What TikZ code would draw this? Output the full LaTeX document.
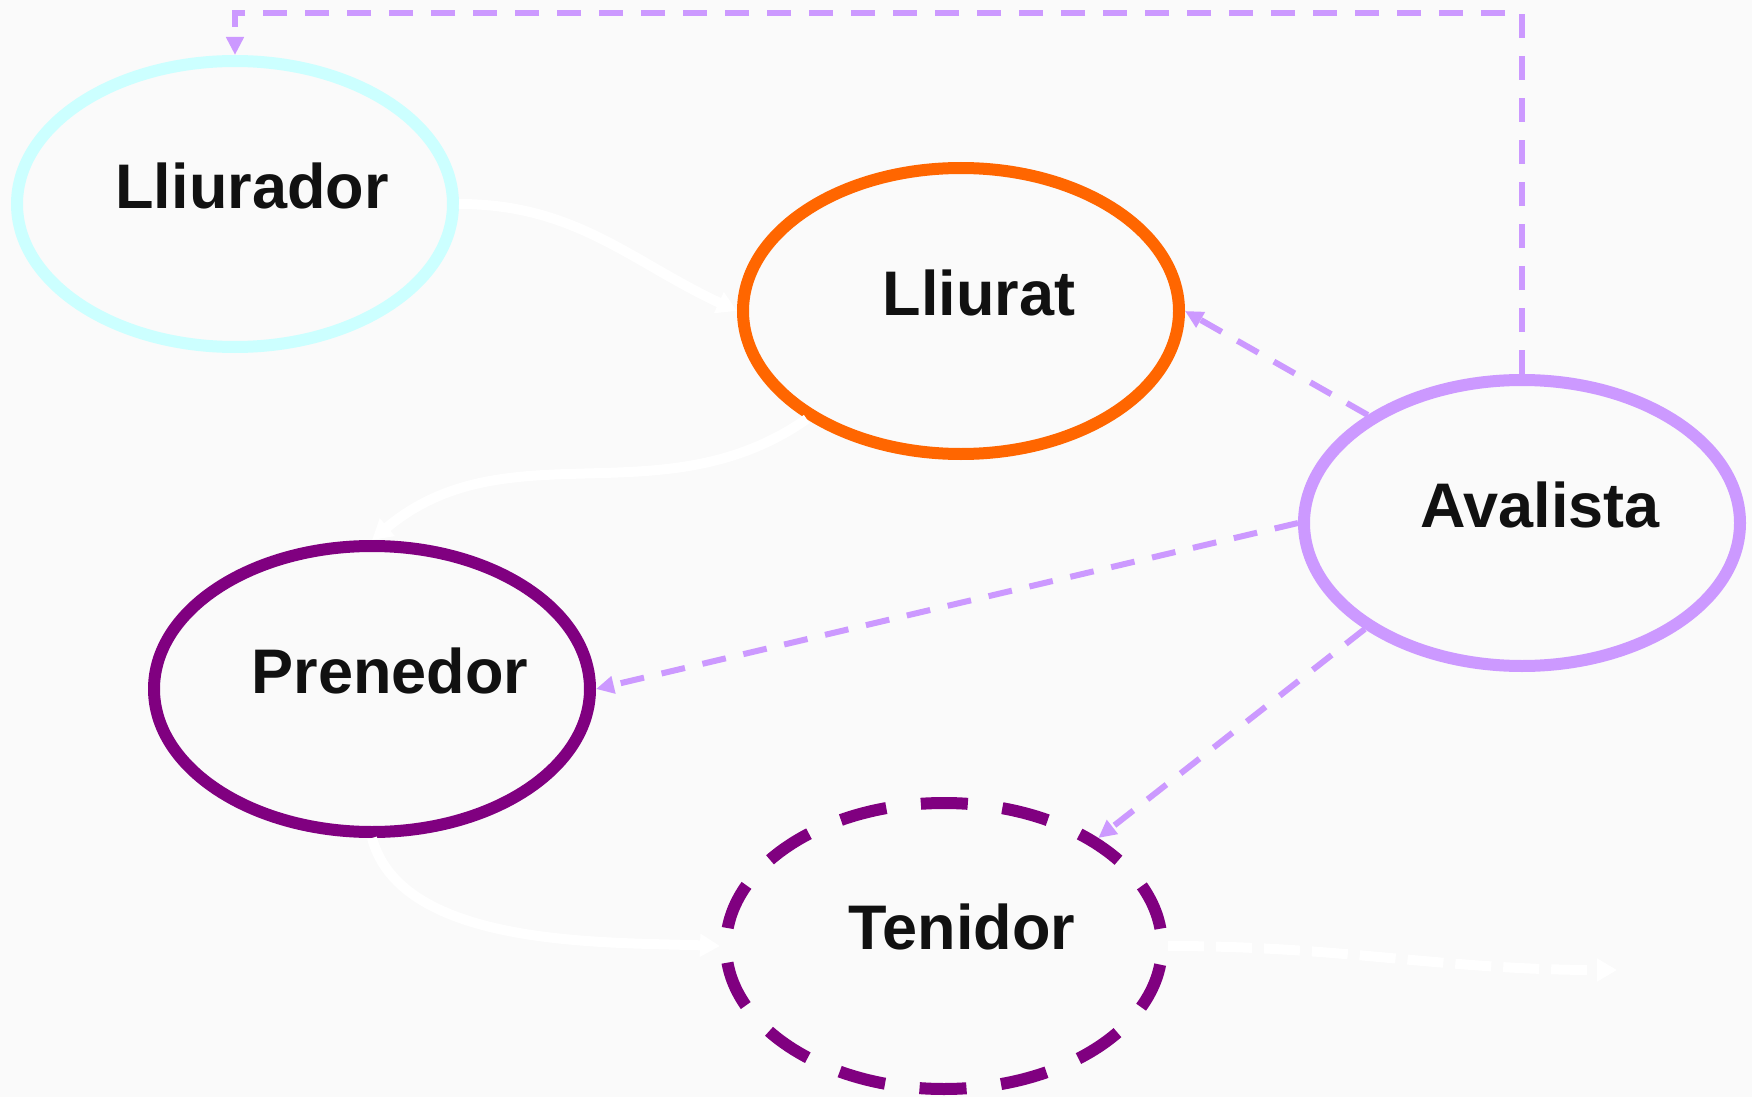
\documentclass[tikz,border=0pt]{standalone}
\usepackage{fontspec}
\setmainfont{Liberation Sans}
\usetikzlibrary{arrows.meta,shapes.geometric}

\definecolor{bgcol}{HTML}{FAFAFA}
\definecolor{cyanline}{HTML}{CCFFFF}
\definecolor{orangeline}{HTML}{FF6600}
\definecolor{purpleline}{HTML}{800080}
\definecolor{lilac}{HTML}{CC99FF}
\definecolor{ink}{HTML}{111111}

\tikzset{
  party/.style={ellipse, draw=#1, line width=6pt, minimum width=218pt,
    minimum height=143pt, inner sep=0pt},
  name tag/.style={text=ink, font=\fontsize{31.5}{38}\selectfont\bfseries, inner sep=0pt},
  guarantee/.style={draw=lilac, line width=3pt, dash pattern=on 12pt off 9pt,
    -{Triangle[length=9pt,width=8.5pt]}},
  flow/.style={draw=white, line width=5pt, -{Triangle[length=10pt,width=11pt]}}
}

\begin{document}
\begin{tikzpicture}[x=0.5pt,y=-0.5pt]
  \fill[bgcol] (0,0) rectangle (1752,1097);
  \useasboundingbox (0,0) rectangle (1752,1097);

  \node[party=cyanline] (lliurador) at (235,204) {};
  \node[party=orangeline] (lliurat) at (961,311) {};
  \node[party=lilac] (avalista) at (1522,523) {};
  \node[party=purpleline] (prenedor) at (372,689) {};
  \node[party=purpleline, dash pattern=on 23.5pt off 17.4pt, dash phase=32.2pt]
    (tenidor) at (944,946) {};

  \node[name tag] (lliurador-t) at ([shift={(17,-18)}]lliurador) {Lliurador};
  \node[name tag] (lliurat-t) at ([shift={(18,-18)}]lliurat) {Lliurat};
  \node[name tag] (avalista-t) at ([shift={(18,-18)}]avalista) {Avalista};
  \node[name tag] (prenedor-t) at ([shift={(18,-18)}]prenedor) {Prenedor};
  \node[name tag] (tenidor-t) at ([shift={(18,-19)}]tenidor) {Tenidor};

  \coordinate (ceil) at (0,13);
  \coordinate (exit) at (1617,970);

  \draw[flow] (lliurador.east) to[out=0,in=155] (lliurat.west);
  \draw[flow] (lliurat.215) to[out=215,in=40] (prenedor.north);
  \draw[flow] (prenedor.south) to[out=-75,in=178,looseness=0.8] (tenidor.west);
  \draw[flow, dash pattern=on 18pt off 6pt] (tenidor.east) to[out=0,in=180] (exit);

  \draw[guarantee] (avalista.145) -- (lliurat.east);
  \draw[guarantee] (avalista.west) -- (prenedor.east);
  \draw[guarantee] (avalista.214) -- (tenidor.35);
  \draw[guarantee] (avalista.north) -- (avalista.north |- ceil) -| (lliurador.north);
\end{tikzpicture}
\end{document}
